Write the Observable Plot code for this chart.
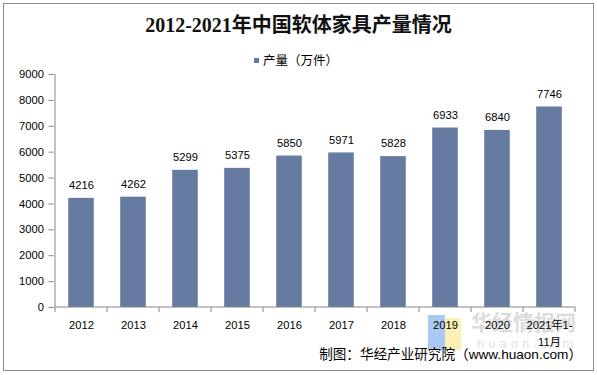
<!DOCTYPE html>
<html><head><meta charset="utf-8">
<script src="https://cdn.jsdelivr.net/npm/d3@7"></script>
<script src="https://cdn.jsdelivr.net/npm/@observablehq/plot@0.6"></script>
<style>
body{margin:0;background:#fff;}
#wrap{position:relative;width:597px;height:375px;overflow:hidden;font-family:"Liberation Sans","Noto Sans CJK SC",sans-serif;color:#000;}
#frame{position:absolute;left:3px;top:3px;width:591px;height:368px;border:1.5px solid #8a8a8a;box-sizing:border-box;}
#title{position:absolute;left:0;top:12px;width:597px;text-align:center;font-family:"Liberation Serif","Noto Sans CJK SC",serif;font-weight:bold;font-size:20px;line-height:26px;color:#111;}
#legend{position:absolute;left:254px;top:52px;font-size:12.5px;line-height:18px;white-space:nowrap;}
#legend .sw{display:inline-block;width:5px;height:5px;background:#667ba1;margin-right:4px;vertical-align:middle;position:relative;top:-1px;}
#source{position:absolute;right:15px;top:345px;font-size:13.6px;line-height:19px;white-space:nowrap;}
#chart{position:absolute;left:0;top:0;}
.wm{position:absolute;white-space:nowrap;}
</style>
</head><body>
<div id="wrap">
  <div class="wm" style="left:428px;top:315px;width:17px;height:35px;background:#a9c9f2;"></div>
  <div class="wm" style="left:445px;top:318px;width:16px;height:32px;background:#fdf0b4;"></div>
  <div class="wm" style="left:471px;top:306px;font-size:21px;font-weight:bold;color:#dcdcdc;font-family:'Noto Sans CJK SC';line-height:30px;">华经情报网</div>
  <div class="wm" style="left:477px;top:336px;font-size:13px;color:#e2e2e2;letter-spacing:4px;line-height:16px;">huaon.com</div>
  <div id="frame"></div>
  <div id="chart"></div>
  <div id="title">2012-2021年中国软体家具产量情况</div>
  <div id="legend"><span class="sw"></span>产量（万件）</div>
  <div id="source">制图：华经产业研究院（www.huaon.com）</div>
</div>
<script>
const years = ["2012","2013","2014","2015","2016","2017","2018","2019","2020","2021年1-\n11月"];
const values = [4216,4262,5299,5375,5850,5971,5828,6933,6840,7746];
const yTicks = [0,1000,2000,3000,4000,5000,6000,7000,8000,9000];

const data = years.map((year, i) => ({year, value: values[i]}));

function axisLines(index, scales, values, dimensions) {
  const g = d3.create("svg:g").attr("stroke", "#868686").attr("stroke-width", 1);
  const bw = scales.x(years[1]) - scales.x(years[0]);
  const xs = years.map(y => scales.x(y));
  xs.push(xs[xs.length - 1] + bw);
  const yb = scales.y(0), yt = scales.y(9000);
  const x0 = xs[0], x1 = xs[xs.length - 1];
  g.append("line").attr("x1", x0).attr("x2", x0).attr("y1", yt).attr("y2", yb);
  g.append("line").attr("x1", x0).attr("x2", x1).attr("y1", yb).attr("y2", yb);
  for (const x of xs) {
    g.append("line").attr("x1", x).attr("x2", x).attr("y1", yb).attr("y2", yb + 5);
  }
  return g.node();
}

const chart = Plot.plot({
  width: 597,
  height: 375,
  marginLeft: 53.5,
  marginRight: 20,
  marginTop: 74,
  marginBottom: 68,
  style: {background: "transparent", fontFamily: '"Liberation Sans","Noto Sans CJK SC",sans-serif', fontSize: "11px", color: "#000"},
  x: {domain: years, padding: 0, axis: null},
  y: {domain: [0, 9000], axis: null},
  marks: [
    Plot.barY(data, {x: "year", y: "value", fill: "#667ba1", insetLeft: 13.2, insetRight: 13.2}),
    Plot.text(data, {x: "year", y: "value", text: d => String(d.value), dy: -13, fontSize: 11.2, fill: "#000"}),
    Plot.axisY({ticks: yTicks, tickFormat: d => String(d), tickSize: 5, tickPadding: 5, stroke: "#868686", fill: "#000", fontSize: 11.2, label: null}),
    Plot.text(data, {x: "year", text: "year", frameAnchor: "bottom", lineAnchor: "top", dy: 9, lineHeight: 1.55, fontSize: 11.2, fill: "#000"}),
    axisLines
  ]
});
document.getElementById("chart").appendChild(chart);
</script>
</body></html>
